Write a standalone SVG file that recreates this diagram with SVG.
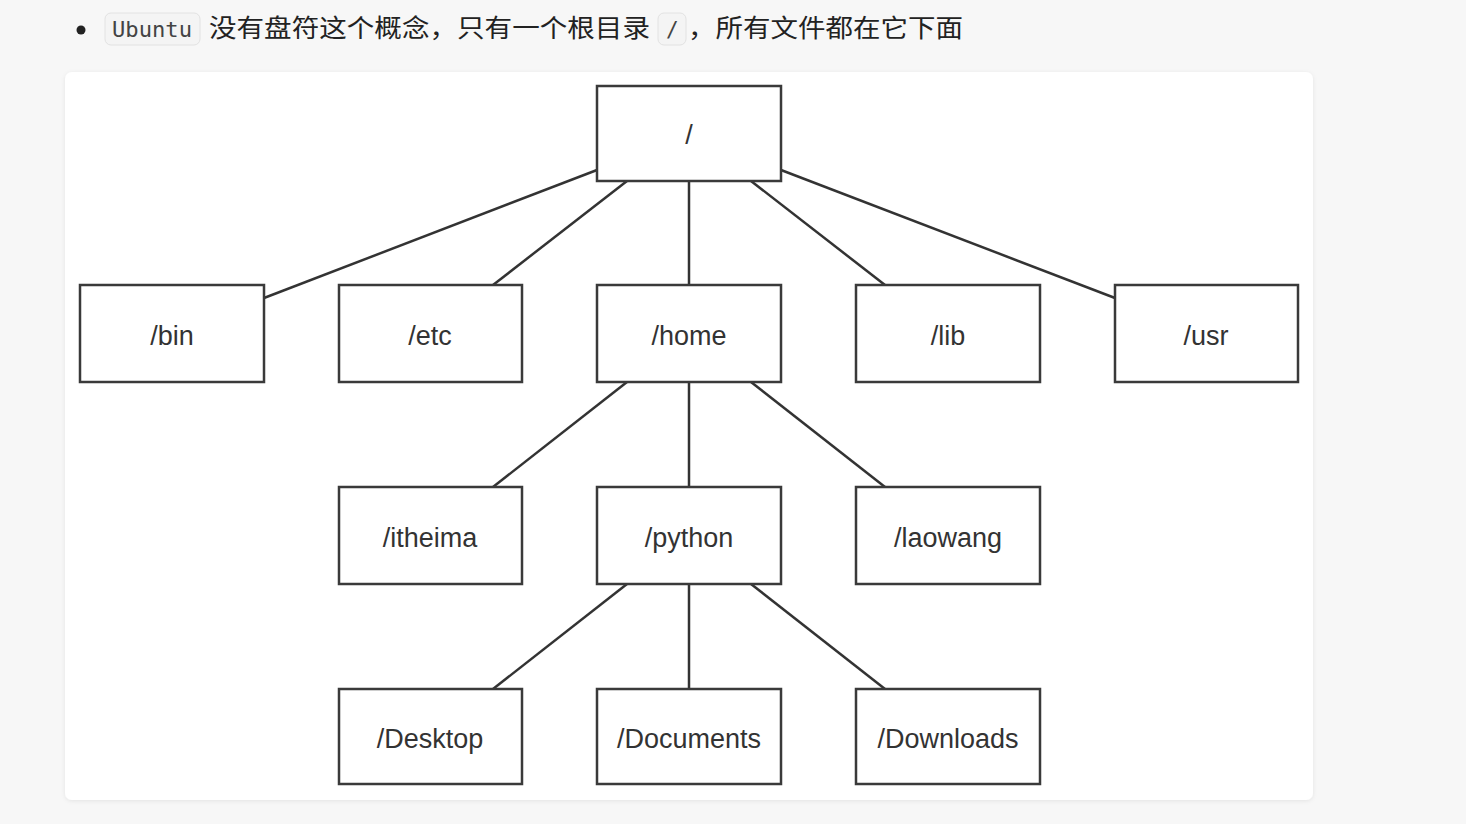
<svg xmlns="http://www.w3.org/2000/svg" width="1466" height="824" viewBox="0 0 1466 824">
<style>
.node rect{fill:#fff;stroke:#3a3a3a;stroke-width:2.5}
.node text{font-family:"Liberation Sans",Arial,sans-serif;font-size:27px;fill:#333;text-anchor:middle}
#connectors line{stroke:#333;stroke-width:2.5}
.cn{font-family:"Noto Sans CJK SC",sans-serif;font-size:25px;fill:#222}
.code{font-family:"DejaVu Sans Mono","Liberation Mono",monospace;font-size:21px;fill:#444}
.pill{fill:#f4f4f4;stroke:#e2e2e2;stroke-width:1}
</style>
<defs>
<filter id="sh" x="-5%" y="-5%" width="110%" height="110%"><feDropShadow dx="0" dy="1" stdDeviation="2" flood-color="#000" flood-opacity="0.08"/></filter>
</defs>
<rect x="0" y="0" width="1466" height="824" fill="#f7f7f7"/>
<g id="header">
<circle cx="81" cy="30" r="4.5" fill="#222"/>
<rect class="pill" x="105" y="13" width="95" height="32" rx="6"/>
<text class="code" x="112" y="37" textLength="80" lengthAdjust="spacingAndGlyphs">Ubuntu</text>
<text class="cn" x="209" y="37" textLength="441" lengthAdjust="spacingAndGlyphs">没有盘符这个概念，只有一个根目录</text>
<rect class="pill" x="658" y="13" width="28" height="32" rx="6"/>
<text class="code" x="666" y="37">/</text>
<text class="cn" x="688" y="37" textLength="275" lengthAdjust="spacingAndGlyphs">，所有文件都在它下面</text>
</g>
<rect x="65" y="72" width="1248" height="728" rx="7" fill="#fff" filter="url(#sh)"/>
<g id="connectors">
<line x1="597" y1="170" x2="264" y2="298"/>
<line x1="627" y1="181" x2="493" y2="285"/>
<line x1="689" y1="181" x2="689" y2="285"/>
<line x1="751" y1="181" x2="885" y2="285"/>
<line x1="781" y1="170" x2="1115" y2="298"/>
<line x1="627" y1="382" x2="493" y2="487"/>
<line x1="689" y1="382" x2="689" y2="487"/>
<line x1="751" y1="382" x2="885" y2="487"/>
<line x1="627" y1="584" x2="493" y2="689"/>
<line x1="689" y1="584" x2="689" y2="689"/>
<line x1="751" y1="584" x2="885" y2="689"/>
</g>
<g id="root" class="node"><rect x="597" y="86" width="184" height="95"/><text x="689" y="144">/</text></g>
<g id="bin" class="node"><rect x="80" y="285" width="184" height="97"/><text x="172" y="345">/bin</text></g>
<g id="etc" class="node"><rect x="339" y="285" width="183" height="97"/><text x="430" y="345">/etc</text></g>
<g id="home" class="node"><rect x="597" y="285" width="184" height="97"/><text x="689" y="345">/home</text></g>
<g id="lib" class="node"><rect x="856" y="285" width="184" height="97"/><text x="948" y="345">/lib</text></g>
<g id="usr" class="node"><rect x="1115" y="285" width="183" height="97"/><text x="1206" y="345">/usr</text></g>
<g id="itheima" class="node"><rect x="339" y="487" width="183" height="97"/><text x="430" y="547">/itheima</text></g>
<g id="python" class="node"><rect x="597" y="487" width="184" height="97"/><text x="689" y="547">/python</text></g>
<g id="laowang" class="node"><rect x="856" y="487" width="184" height="97"/><text x="948" y="547">/laowang</text></g>
<g id="desktop" class="node"><rect x="339" y="689" width="183" height="95"/><text x="430" y="748">/Desktop</text></g>
<g id="documents" class="node"><rect x="597" y="689" width="184" height="95"/><text x="689" y="748">/Documents</text></g>
<g id="downloads" class="node"><rect x="856" y="689" width="184" height="95"/><text x="948" y="748">/Downloads</text></g>
</svg>
